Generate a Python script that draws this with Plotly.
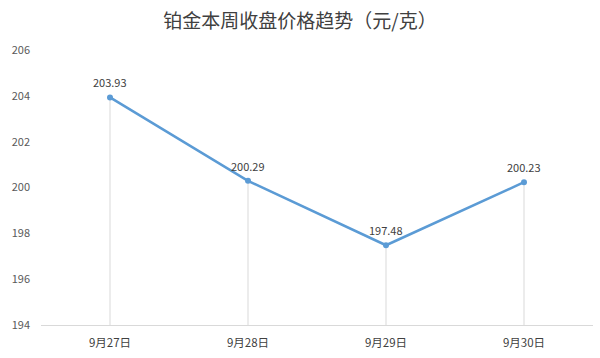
import plotly.graph_objects as go

categories = ["9月27日", "9月28日", "9月29日", "9月30日"]
prices = [203.93, 200.29, 197.48, 200.23]
y_min, y_max = 194, 206
y_ticks = [194, 196, 198, 200, 202, 204, 206]
title = "铂金本周收盘价格趋势（元/克）"

font_family = "Noto Sans CJK SC, Noto Sans, sans-serif"

fig = go.Figure()

# drop lines from each point down to the axis
fig.add_trace(go.Scatter(
    x=categories, y=prices, mode="markers",
    marker=dict(size=1, color="rgba(0,0,0,0)"),
    error_y=dict(type="data", symmetric=False,
                 array=[0] * len(prices),
                 arrayminus=[p - y_min for p in prices],
                 color="#d9d9d9", thickness=1, width=0),
    hoverinfo="skip", showlegend=False,
))

fig.add_trace(go.Scatter(
    x=categories, y=prices, mode="lines+markers",
    line=dict(color="#5b9bd5", width=2.5),
    marker=dict(size=6, color="#5b9bd5"),
    showlegend=False,
))

for c, p in zip(categories, prices):
    fig.add_annotation(x=c, y=p, text=f"{p:.2f}", showarrow=False,
                       yshift=15, font=dict(size=11, color="#404040", family=font_family))

fig.update_layout(
    width=600, height=358,
    margin=dict(l=41, r=7, t=50, b=33),
    paper_bgcolor="white", plot_bgcolor="white",
    title=dict(text=title, x=0.5, xanchor="center", y=0.94, yanchor="middle",
               font=dict(size=19, color="#404040", family=font_family)),
    font=dict(family=font_family, color="#595959", size=11),
)
fig.update_xaxes(
    type="category", range=[-0.5, len(categories) - 0.5],
    showgrid=False, zeroline=False,
    showline=True, linecolor="#d9d9d9", linewidth=1,
    ticks="", ticklabelstandoff=7, tickfont=dict(size=11.5, color="#404040"),
)
fig.update_yaxes(
    range=[y_min, y_max], tickvals=y_ticks, showgrid=False, zeroline=False,
    showline=False, ticks="", ticklabelstandoff=10,
    tickfont=dict(size=11, color="#595959"),
)

fig.write_html("out.html")
